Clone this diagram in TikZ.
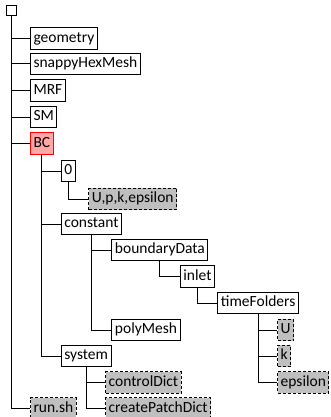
\documentclass[tikz,border=0pt]{standalone}
\usepackage{fontspec}
\setmainfont{Carlito}
\usetikzlibrary{calc}
\begin{document}
\begin{tikzpicture}[x=1pt,y=-1pt,
  box/.style={draw, line width=1pt, anchor=west, inner xsep=3pt, inner ysep=3pt, text height=11.2pt, text depth=4pt, font=\fontsize{15.5}{17}\selectfont},
  file/.style={box, dash pattern=on 3pt off 2pt, fill=gray!50},
  bc/.style={box, draw=red, fill=red!35},
  conn/.style={line width=1pt}]
\useasboundingbox (0,0) rectangle (330,417);
\node[draw, line width=1pt, minimum size=10pt, inner sep=0pt] (root) at (11.5,11) {};
\node[box] (geo) at ($(root.south |- 0,38.5)+(18.5,0)$) {geometry};
\node[box] (snappy) at ($(root.south |- 0,64)+(18.5,0)$) {snappyHexMesh};
\node[box] (mrf) at ($(root.south |- 0,90.5)+(18.5,0)$) {MRF};
\node[box] (sm) at ($(root.south |- 0,117)+(18.5,0)$) {SM};
\node[bc] (bc) at ($(root.south |- 0,143.5)+(18.5,0)$) {BC};
\node[box] (zero) at ($(bc.south |- 0,171)+(19,0)$) {0};
\node[file] (upke) at ($(zero.south |- 0,199)+(20,0)$) {U,p,k,epsilon};
\node[box] (const) at ($(bc.south |- 0,224)+(19,0)$) {constant};
\node[box] (bd) at ($(const.south |- 0,250)+(20,0)$) {boundaryData};
\node[box] (inlet) at ($(bd.south |- 0,276.5)+(20,0)$) {inlet};
\node[box] (tf) at ($(inlet.south |- 0,303)+(20,0)$) {timeFolders};
\node[file] (u) at ($(tf.south |- 0,330)+(19,0)$) {U};
\node[file] (k) at ($(tf.south |- 0,356)+(19,0)$) {k};
\node[file] (eps) at ($(tf.south |- 0,382.5)+(19,0)$) {epsilon};
\node[box] (poly) at ($(const.south |- 0,330)+(20,0)$) {polyMesh};
\node[box] (sys) at ($(bc.south |- 0,356)+(19,0)$) {system};
\node[file] (cd) at ($(sys.south |- 0,382.5)+(19,0)$) {controlDict};
\node[file] (cpd) at ($(sys.south |- 0,408.5)+(19,0)$) {createPatchDict};
\node[file] (run) at ($(root.south |- 0,408.5)+(18.5,0)$) {run.sh};
\foreach \p/\c in {root/geo, root/snappy, root/mrf, root/sm, root/bc, root/run,
  bc/zero, bc/const, bc/sys, zero/upke, const/bd, const/poly, bd/inlet, inlet/tf,
  tf/u, tf/k, tf/eps, sys/cd, sys/cpd}
  \draw[conn] (\p.south) |- (\c.west);
\end{tikzpicture}
\end{document}
